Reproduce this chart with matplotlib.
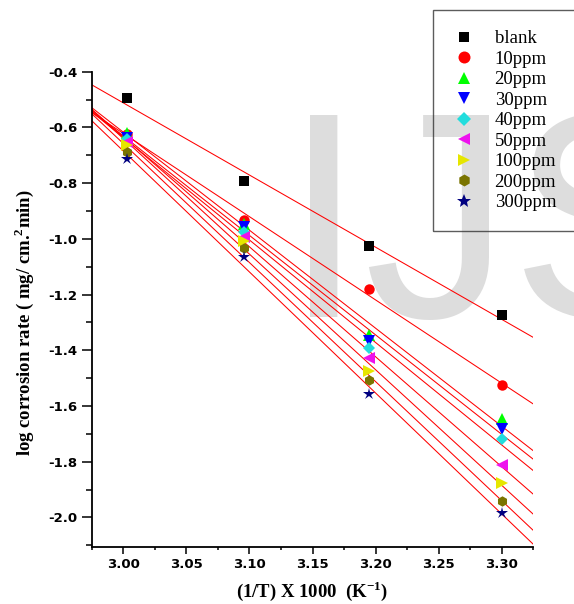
import matplotlib
matplotlib.use("Agg")
import matplotlib.pyplot as plt
import numpy as np
from matplotlib.ticker import MultipleLocator, FormatStrFormatter

plt.rcParams['axes.unicode_minus'] = False
plt.rcParams['mathtext.fontset'] = 'custom'
plt.rcParams['mathtext.rm'] = 'Liberation Serif'
plt.rcParams['mathtext.bf'] = 'Liberation Serif:bold'

# ---- data ----
inv_T = [3.003, 3.096, 3.195, 3.300]
labels = ['blank', '10ppm', '20ppm', '30ppm', '40ppm', '50ppm', '100ppm', '200ppm', '300ppm']
blank = [-0.494, -0.793, -1.026, -1.273]
p10 = [-0.623, -0.931, -1.181, -1.526]
p20 = [-0.619, -0.945, -1.346, -1.648]
p30 = [-0.637, -0.959, -1.366, -1.681]
p40 = [-0.643, -0.975, -1.393, -1.719]
p50 = [-0.652, -0.992, -1.426, -1.810]
p100 = [-0.664, -1.008, -1.474, -1.878]
p200 = [-0.688, -1.034, -1.507, -1.940]
p300 = [-0.713, -1.066, -1.556, -1.983]
series = [blank, p10, p20, p30, p40, p50, p100, p200, p300]

markers = ['s', 'o', '^', 'v', 'D', '<', '>', 'h', '*']
colors = ['#000000', '#ff0000', '#00ff00', '#0000ff', '#22dddd', '#ee11ee', '#e6e600', '#7a7400', '#000080']
msizes = [6.5, 7.5, 8, 8, 6.5, 8, 8, 7.5, 9]

fig = plt.figure(figsize=(5.74, 6.04), dpi=100)
fig.patch.set_facecolor('white')

# watermark
fig.text(283/574, 1 - 317/604, 'IJS', fontsize=211, family='Liberation Sans',
         color='#dddddd', ha='left', va='baseline', zorder=-5)

ax = fig.add_axes([91.7/574, 1 - 546.7/604, (533.3-91.7)/574, (546.7-71.7)/604])
ax.set_facecolor('none')

xlim = (2.975, 3.325)
ax.set_xlim(*xlim)
ax.set_ylim(-2.105, -0.4)

xx = np.array(xlim)
handles = []
for ys, m, c, ms, lab in zip(series, markers, colors, msizes, labels):
    k, b = np.polyfit(inv_T, ys, 1)
    ax.plot(xx, k*xx + b, color='red', lw=0.75, zorder=2)
    h, = ax.plot(inv_T, ys, linestyle='none', marker=m, color=c, markersize=ms,
                 markeredgewidth=0, label=lab, zorder=3)
    handles.append(h)

for s in ['top', 'right']:
    ax.spines[s].set_visible(False)
for s in ['left', 'bottom']:
    ax.spines[s].set_linewidth(1.3)

ax.xaxis.set_major_locator(MultipleLocator(0.05))
ax.xaxis.set_minor_locator(MultipleLocator(0.025))
ax.yaxis.set_major_locator(MultipleLocator(0.2))
ax.yaxis.set_minor_locator(MultipleLocator(0.1))
ax.xaxis.set_major_formatter(FormatStrFormatter('%.2f'))
ax.yaxis.set_major_formatter(FormatStrFormatter('%.1f'))

ax.tick_params(axis='x', which='major', direction='out', length=5, width=1.1, pad=3)
ax.tick_params(axis='x', which='minor', direction='out', length=2.5, width=1.1)
ax.tick_params(axis='y', which='major', direction='out', length=7.5, width=1.1, pad=3)
ax.tick_params(axis='y', which='minor', direction='out', length=4, width=1.1)
for lab in ax.get_xticklabels() + ax.get_yticklabels():
    lab.set_fontfamily('DejaVu Sans')
    lab.set_fontweight('bold')
    lab.set_fontsize(9.5)

ax.set_xlabel(r'(1/T) X 1000  (K$^{\mathbf{-1}}$)', fontsize=13.5, family='Liberation Serif',
              fontweight='bold', labelpad=6)
ax.set_ylabel(r'log corrosion rate ( mg/ cm.$^{\mathbf{2}}$min)', fontsize=13.5,
              family='Liberation Serif', fontweight='bold')
ax.yaxis.set_label_coords(-0.125, 0.471)

leg = fig.legend(handles=handles, labels=labels, loc='upper left',
                 bbox_to_anchor=(432.7/574, 1 - 229/604, 150/574, 219/604), mode='expand',
                 frameon=True, fancybox=False,
                 prop={'family': 'Liberation Serif', 'size': 13.5},
                 handlelength=1.2, handletextpad=1.03, labelspacing=0.18,
                 borderpad=1.07, borderaxespad=0, markerscale=1.15)
fr = leg.get_frame()
fr.set_facecolor('none')
fr.set_edgecolor('#333333')
fr.set_linewidth(1.0)

fig.savefig('out.png', dpi=100)
